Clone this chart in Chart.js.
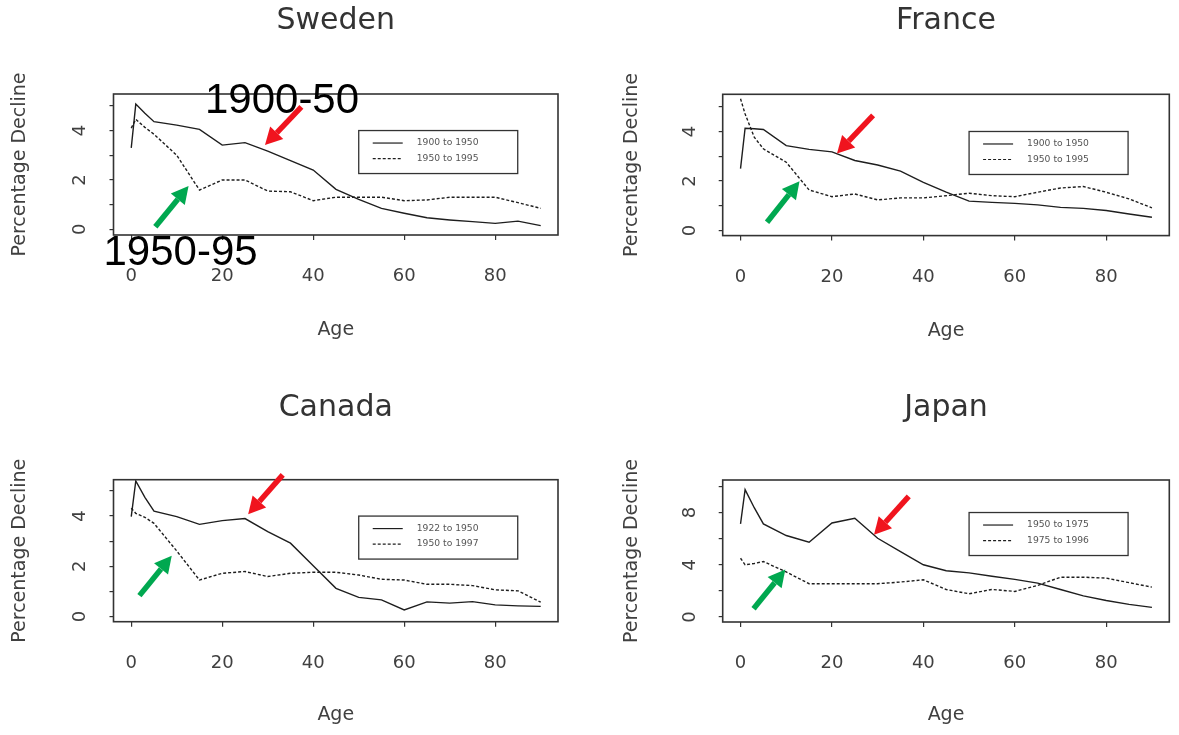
<!DOCTYPE html>
<html>
<head>
<meta charset="utf-8">
<title>Percentage decline by age</title>
<script src="https://cdn.jsdelivr.net/npm/chart.js@4/dist/chart.umd.min.js"></script>
<style>
  html, body { margin: 0; padding: 0; background: #fff; }
  body { width: 1179px; height: 735px; position: relative; overflow: hidden; }
  .panel { position: absolute; }
</style>
</head>
<body>
<div class="panel" style="left:0;top:0;width:590px;height:367px"><canvas id="sweden"></canvas></div>
<div class="panel" style="left:590px;top:0;width:589px;height:367px"><canvas id="france"></canvas></div>
<div class="panel" style="left:0;top:367px;width:590px;height:368px"><canvas id="canada"></canvas></div>
<div class="panel" style="left:590px;top:367px;width:589px;height:368px"><canvas id="japan"></canvas></div>
<script>
// ages (x) shared by every panel
const ages = [0, 1, 3, 5, 10, 15, 20, 25, 30, 35, 40, 45, 50, 55, 60, 65, 70, 75, 80, 85, 90];
const ageTicks = [0, 20, 40, 60, 80];

// Sweden
const swedenLabels = ["1900 to 1950", "1950 to 1995"];
const sweden1900 = [3.3, 5.07, 4.7, 4.36, 4.22, 4.05, 3.41, 3.51, 3.17, 2.78, 2.40, 1.62, 1.21, 0.85, 0.65, 0.47, 0.38, 0.31, 0.24, 0.33, 0.15];
const sweden1950 = [4.1, 4.45, 4.13, 3.85, 3.0, 1.59, 2.0, 2.0, 1.55, 1.52, 1.16, 1.3, 1.3, 1.3, 1.16, 1.19, 1.3, 1.3, 1.3, 1.08, 0.85];

// France
const franceLabels = ["1900 to 1950", "1950 to 1995"];
const france1900 = [2.5, 4.13, 4.11, 4.08, 3.43, 3.28, 3.18, 2.83, 2.65, 2.4, 1.95, 1.55, 1.19, 1.14, 1.1, 1.04, 0.94, 0.9, 0.81, 0.67, 0.54];
const france1950 = [5.32, 4.71, 3.77, 3.3, 2.76, 1.64, 1.37, 1.48, 1.24, 1.32, 1.32, 1.41, 1.51, 1.41, 1.37, 1.55, 1.72, 1.78, 1.55, 1.28, 0.92];

// Canada
const canadaLabels = ["1922 to 1950", "1950 to 1997"];
const canada1922 = [3.98, 5.4, 4.75, 4.2, 3.98, 3.67, 3.82, 3.9, 3.38, 2.92, 2.02, 1.12, 0.76, 0.66, 0.26, 0.58, 0.53, 0.59, 0.46, 0.42, 0.4];
const canada1950 = [4.31, 4.11, 3.95, 3.71, 2.61, 1.45, 1.72, 1.79, 1.59, 1.72, 1.76, 1.76, 1.65, 1.48, 1.45, 1.28, 1.28, 1.23, 1.06, 1.02, 0.57];

// Japan
const japanLabels = ["1950 to 1975", "1975 to 1996"];
const japan1950 = [7.13, 9.75, 8.37, 7.13, 6.24, 5.73, 7.2, 7.56, 6.03, 5.01, 4.0, 3.54, 3.38, 3.12, 2.88, 2.6, 2.11, 1.62, 1.27, 0.97, 0.74];
const japan1975 = [4.5, 4.0, 4.1, 4.25, 3.45, 2.55, 2.55, 2.55, 2.55, 2.68, 2.85, 2.11, 1.78, 2.11, 1.96, 2.42, 3.05, 3.05, 2.98, 2.63, 2.29];

Chart.defaults.font.family = "'DejaVu Sans', sans-serif";
Chart.defaults.color = "#404040";

const INK = "#1e1e1e";
const RED = "#f0141e";
const GREEN = "#00a850";

// box round the plot region
const framePlugin = {
  id: "frame",
  afterDatasetsDraw(chart) {
    const a = chart.chartArea;
    const ctx = chart.ctx;
    ctx.save();
    ctx.strokeStyle = "#333";
    ctx.lineWidth = 1.6;
    ctx.strokeRect(a.left, a.top, a.right - a.left, a.bottom - a.top);
    ctx.restore();
  }
};

// R-style legend box, top-left corner given in data units
const boxLegend = {
  id: "boxLegend",
  afterDatasetsDraw(chart, args, opts) {
    if (!opts.at) return;
    const ctx = chart.ctx;
    const x0 = chart.scales.x.getPixelForValue(opts.at[0]);
    const y0 = chart.scales.y.getPixelForValue(opts.at[1]);
    ctx.save();
    ctx.fillStyle = "#fff";
    ctx.fillRect(x0, y0, 159, 43);
    ctx.strokeStyle = "#333";
    ctx.lineWidth = 1.3;
    ctx.strokeRect(x0, y0, 159, 43);
    chart.data.datasets.forEach((ds, i) => {
      const yy = y0 + 12.5 + i * 15.5;
      ctx.strokeStyle = INK;
      ctx.lineWidth = 1.2;
      ctx.setLineDash(ds.borderDash || []);
      ctx.beginPath();
      ctx.moveTo(x0 + 14, yy);
      ctx.lineTo(x0 + 44, yy);
      ctx.stroke();
      ctx.setLineDash([]);
      ctx.fillStyle = "#555";
      ctx.font = "9.2px 'DejaVu Sans', sans-serif";
      ctx.textBaseline = "middle";
      ctx.fillText(ds.label, x0 + 58, yy);
    });
    ctx.restore();
  }
};

// arrows and big labels laid over the plot, in data units
const notesPlugin = {
  id: "notes",
  afterDraw(chart, args, opts) {
    const ctx = chart.ctx;
    const sx = chart.scales.x, sy = chart.scales.y;
    ctx.save();
    (opts.arrows || []).forEach(a => {
      const x1 = sx.getPixelForValue(a.from[0]), y1 = sy.getPixelForValue(a.from[1]);
      const x2 = sx.getPixelForValue(a.to[0]), y2 = sy.getPixelForValue(a.to[1]);
      const ang = Math.atan2(y2 - y1, x2 - x1);
      const head = 17, half = 9;
      const bx = x2 - head * Math.cos(ang), by = y2 - head * Math.sin(ang);
      ctx.strokeStyle = a.color;
      ctx.fillStyle = a.color;
      ctx.lineWidth = 5.5;
      ctx.beginPath();
      ctx.moveTo(x1, y1);
      ctx.lineTo(bx, by);
      ctx.stroke();
      ctx.beginPath();
      ctx.moveTo(x2, y2);
      ctx.lineTo(bx + half * Math.sin(ang), by - half * Math.cos(ang));
      ctx.lineTo(bx - half * Math.sin(ang), by + half * Math.cos(ang));
      ctx.closePath();
      ctx.fill();
    });
    (opts.texts || []).forEach(t => {
      ctx.fillStyle = "#000";
      ctx.font = "42px 'Liberation Sans', Arial, sans-serif";
      ctx.textAlign = "left";
      ctx.textBaseline = "alphabetic";
      ctx.fillText(t.text, sx.getPixelForValue(t.at[0]), sy.getPixelForValue(t.at[1]));
    });
    ctx.restore();
  }
};

function series(values) {
  return ages.map((a, i) => ({ x: a, y: values[i] }));
}

function makePanel(id, cfg) {
  new Chart(document.getElementById(id), {
    type: "line",
    data: {
      datasets: [
        { label: cfg.labels[0], data: series(cfg.solid), borderColor: INK, borderWidth: 1.4 },
        { label: cfg.labels[1], data: series(cfg.dashed), borderColor: INK, borderWidth: 1.4, borderDash: [3, 2] }
      ]
    },
    options: {
      responsive: true,
      maintainAspectRatio: false,
      animation: false,
      parsing: false,
      elements: { point: { radius: 0 }, line: { tension: 0 } },
      layout: { padding: cfg.pad },
      plugins: {
        legend: { display: false },
        tooltip: { enabled: false },
        title: {
          display: true,
          text: cfg.title,
          fullSize: false,
          color: "#333",
          font: { size: 30, weight: "normal" },
          padding: cfg.titlePad
        },
        boxLegend: { at: cfg.legendAt },
        notes: { arrows: cfg.arrows, texts: cfg.texts || [] }
      },
      scales: {
        x: {
          type: "linear",
          min: -3.9,
          max: 93.8,
          border: { display: false },
          grid: { drawOnChartArea: false, tickLength: 5, color: "#333", lineWidth: 1.2 },
          afterBuildTicks: s => { s.ticks = ageTicks.map(v => ({ value: v })); },
          ticks: { font: { size: 18 }, padding: 26, maxRotation: 0, autoSkip: false },
          title: { display: true, text: "Age", font: { size: 19 }, padding: 0 },
          afterFit: s => { s.height = cfg.xh; }
        },
        y: {
          min: cfg.yMin,
          max: cfg.yMax,
          border: { display: false },
          grid: { drawOnChartArea: false, tickLength: 4, color: "#333", lineWidth: 1.2 },
          ticks: {
            stepSize: cfg.step,
            includeBounds: false,
            minRotation: 90,
            maxRotation: 90,
            crossAlign: "center",
            padding: 23,
            font: { size: 18 },
            callback: v => (v % cfg.labelEvery === 0 ? v : "")
          },
          title: { display: true, text: "Percentage Decline", font: { size: 19 }, padding: { top: cfg.yTitleTop, bottom: 0 } },
          afterFit: s => { s.width = cfg.yw; }
        }
      }
    },
    plugins: [framePlugin, boxLegend, notesPlugin]
  });
}

makePanel("sweden", {
  title: "Sweden", labels: swedenLabels, solid: sweden1900, dashed: sweden1950,
  yMin: -0.23, yMax: 5.48, step: 1, labelEvery: 2, legendAt: [50, 4],
  pad: { left: 0, right: 32, top: 0, bottom: 25.6 }, titlePad: { top: 3, bottom: 55 },
  yw: 113.5, xh: 106.4, yTitleTop: 8.6,
  arrows: [
    { from: [37.4, 4.96], to: [29.4, 3.41], color: RED },
    { from: [5.3, 0.1], to: [12.6, 1.75], color: GREEN }
  ],
  texts: [
    { text: "1900-50", at: [16.2, 4.71] },
    { text: "1950-95", at: [-6.1, -1.45] }
  ]
});

makePanel("france", {
  title: "France", labels: franceLabels, solid: france1900, dashed: france1950,
  yMin: -0.2, yMax: 5.5, step: 1, labelEvery: 2, legendAt: [50, 4],
  pad: { left: 0, right: 9.7, top: 0, bottom: 25 }, titlePad: { top: 3, bottom: 55.3 },
  yw: 132.7, xh: 106.4, yTitleTop: 30.6,
  arrows: [
    { from: [29.0, 4.65], to: [21.1, 3.11], color: RED },
    { from: [5.8, 0.34], to: [12.9, 1.99], color: GREEN }
  ]
});

makePanel("canada", {
  title: "Canada", labels: canadaLabels, solid: canada1922, dashed: canada1950,
  yMin: -0.21, yMax: 5.45, step: 1, labelEvery: 2, legendAt: [50, 4],
  pad: { left: 0, right: 32, top: 0, bottom: 8.6 }, titlePad: { top: 23, bottom: 53.7 },
  yw: 113.5, xh: 104.7, yTitleTop: 8.6,
  arrows: [
    { from: [33.3, 5.64], to: [25.7, 4.07], color: RED },
    { from: [1.8, 0.83], to: [8.9, 2.42], color: GREEN }
  ]
});

makePanel("japan", {
  title: "Japan", labels: japanLabels, solid: japan1950, dashed: japan1975,
  yMin: -0.38, yMax: 10.49, step: 2, labelEvery: 4, legendAt: [50, 8],
  pad: { left: 0, right: 9.7, top: 0, bottom: 8.6 }, titlePad: { top: 23, bottom: 54 },
  yw: 132.7, xh: 104.4, yTitleTop: 30.6,
  arrows: [
    { from: [36.8, 9.24], to: [29.2, 6.29], color: RED },
    { from: [2.85, 0.64], to: [9.8, 3.64], color: GREEN }
  ]
});
</script>
</body>
</html>
